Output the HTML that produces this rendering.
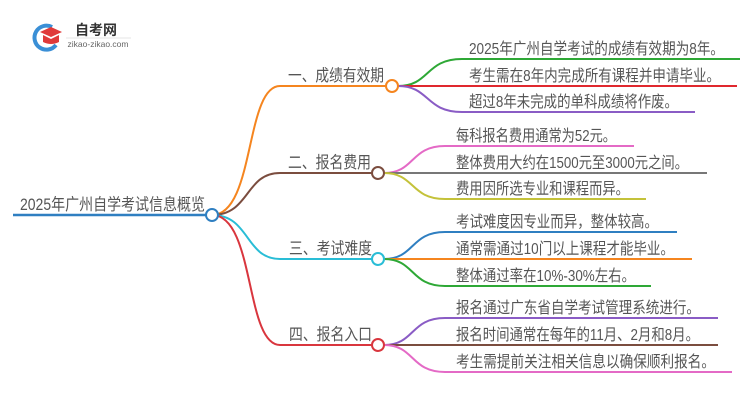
<!DOCTYPE html>
<html><head><meta charset="utf-8"><style>
html,body{margin:0;padding:0;background:#fff;}
svg{display:block;}
text{font-family:"Liberation Sans","Noto Sans CJK SC",sans-serif;fill:#555;}
</style></head><body>
<svg width="750" height="410" viewBox="0 0 750 410" xmlns="http://www.w3.org/2000/svg">
<!-- logo -->
<path d="M52 27 A12 12 0 1 0 56 45" fill="none" stroke="#3a8fd6" stroke-width="4"/>
<path d="M40 32 L51 27 L62 32 L51 37 Z" fill="#e03a3a"/>
<path d="M43 35 L43 42 Q51 46 59 42 L59 35 L51 39 Z" fill="#e03a3a"/>
<text x="96" y="35" font-size="14" font-weight="bold" text-anchor="middle" style="fill:#333">自考网</text>
<line x1="66" y1="38" x2="131" y2="38" stroke="#ddd" stroke-width="0.7"/>
<text x="98" y="47" font-size="8.5" text-anchor="middle" style="fill:#666">zikao-zikao.com</text>

<!-- root -->
<line x1="13" y1="215" x2="206" y2="215" stroke="#2f7fc1" stroke-width="2.5"/>
<text x="20" y="210" font-size="16.5" textLength="185" lengthAdjust="spacingAndGlyphs">2025年广州自学考试信息概览</text>

<!-- main branches -->
<path d="M212 215 C255 215 245 86 280 86 L386 86" fill="none" stroke="#f5851f" stroke-width="2"/>
<path d="M212 215 C250 215 245 173 280 173 L372 173" fill="none" stroke="#7b4d3f" stroke-width="2"/>
<path d="M212 215 C250 215 245 259 280 259 L372 259" fill="none" stroke="#29bdd6" stroke-width="2"/>
<path d="M212 215 C255 215 245 345 280 345 L372 345" fill="none" stroke="#d9363e" stroke-width="2"/>
<text x="288" y="81" font-size="16.5" textLength="96" lengthAdjust="spacingAndGlyphs">一、成绩有效期</text>
<text x="288" y="168" font-size="16.5" textLength="83" lengthAdjust="spacingAndGlyphs">二、报名费用</text>
<text x="289" y="254" font-size="16.5" textLength="83" lengthAdjust="spacingAndGlyphs">三、考试难度</text>
<text x="289" y="340" font-size="16.5" textLength="83" lengthAdjust="spacingAndGlyphs">四、报名入口</text>

<!-- branch 1 leaves -->
<path d="M398 86 C430 86 425 59 462 59 L740 59" fill="none" stroke="#2ea836" stroke-width="2"/>
<path d="M398 86 L737 86" fill="none" stroke="#e0282e" stroke-width="2"/>
<path d="M398 86 C430 86 425 112 462 112 L695 112" fill="none" stroke="#8a5cc5" stroke-width="2"/>
<text x="469" y="54" font-size="16" textLength="255" lengthAdjust="spacingAndGlyphs">2025年广州自学考试的成绩有效期为8年。</text>
<text x="469" y="81" font-size="16" textLength="251" lengthAdjust="spacingAndGlyphs">考生需在8年内完成所有课程并申请毕业。</text>
<text x="469" y="107" font-size="16" textLength="209" lengthAdjust="spacingAndGlyphs">超过8年未完成的单科成绩将作废。</text>

<!-- branch 2 leaves -->
<path d="M384 173 C415 173 410 146 445 146 L634 146" fill="none" stroke="#e46ac6" stroke-width="2"/>
<path d="M384 173 L707 173" fill="none" stroke="#777" stroke-width="2"/>
<path d="M384 173 C415 173 410 199 445 199 L646 199" fill="none" stroke="#c4c23a" stroke-width="2"/>
<text x="456" y="141" font-size="16" textLength="160" lengthAdjust="spacingAndGlyphs">每科报名费用通常为52元。</text>
<text x="456" y="168" font-size="16" textLength="232" lengthAdjust="spacingAndGlyphs">整体费用大约在1500元至3000元之间。</text>
<text x="456" y="194" font-size="16" textLength="173" lengthAdjust="spacingAndGlyphs">费用因所选专业和课程而异。</text>

<!-- branch 3 leaves -->
<path d="M384 259 C415 259 410 232 445 232 L677 232" fill="none" stroke="#2f7fc1" stroke-width="2"/>
<path d="M384 259 L692 259" fill="none" stroke="#f5851f" stroke-width="2"/>
<path d="M384 259 C415 259 410 286 445 286 L651 286" fill="none" stroke="#2ea836" stroke-width="2"/>
<text x="456" y="227" font-size="16" textLength="202" lengthAdjust="spacingAndGlyphs">考试难度因专业而异，整体较高。</text>
<text x="456" y="254" font-size="16" textLength="218" lengthAdjust="spacingAndGlyphs">通常需通过10门以上课程才能毕业。</text>
<text x="456" y="281" font-size="16" textLength="179" lengthAdjust="spacingAndGlyphs">整体通过率在10%-30%左右。</text>

<!-- branch 4 leaves -->
<path d="M384 345 C415 345 410 318 445 318 L718 318" fill="none" stroke="#8a5cc5" stroke-width="2"/>
<path d="M384 345 L718 345" fill="none" stroke="#7b4d3f" stroke-width="2"/>
<path d="M384 345 C415 345 410 372 445 372 L732 372" fill="none" stroke="#e46ac6" stroke-width="2"/>
<text x="456" y="313" font-size="16" textLength="244" lengthAdjust="spacingAndGlyphs">报名通过广东省自学考试管理系统进行。</text>
<text x="456" y="340" font-size="16" textLength="243" lengthAdjust="spacingAndGlyphs">报名时间通常在每年的11月、2月和8月。</text>
<text x="456" y="367" font-size="16" textLength="259" lengthAdjust="spacingAndGlyphs">考生需提前关注相关信息以确保顺利报名。</text>

<!-- node circles -->
<circle cx="212" cy="215" r="6" fill="#fff" stroke="#2f7fc1" stroke-width="2"/>
<circle cx="392" cy="86" r="6" fill="#fff" stroke="#f5851f" stroke-width="2"/>
<circle cx="378" cy="173" r="6" fill="#fff" stroke="#7b4d3f" stroke-width="2"/>
<circle cx="378" cy="259" r="6" fill="#fff" stroke="#29bdd6" stroke-width="2"/>
<circle cx="378" cy="345" r="6" fill="#fff" stroke="#d9363e" stroke-width="2"/>
</svg>
</body></html>
